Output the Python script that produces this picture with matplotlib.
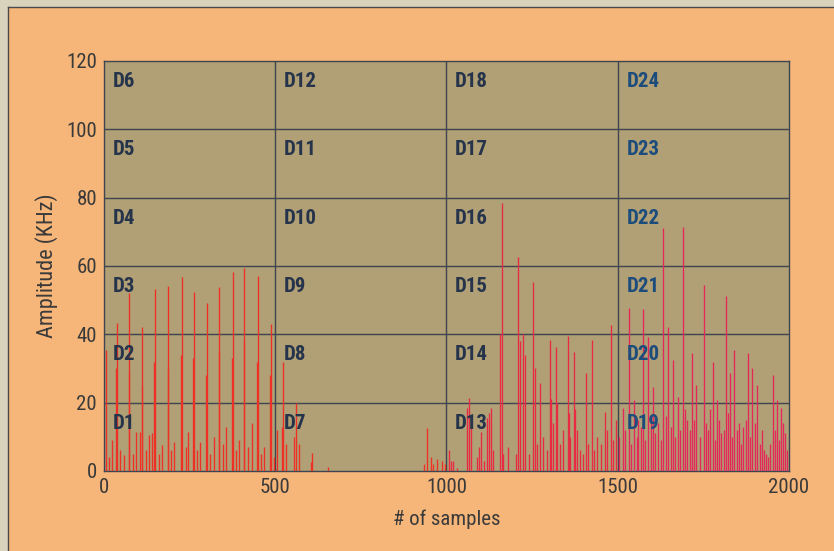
import matplotlib
matplotlib.use('Agg')
import matplotlib.pyplot as plt
from matplotlib.patches import Rectangle

# spike positions (sample index) and peak amplitudes (KHz)
# block 1: 0-500
b1_x = [5, 37, 74, 112, 149, 188, 227, 263, 300, 337, 376, 410, 449, 487,
        35, 72, 110, 147, 186, 225, 261, 298, 335, 374, 408, 447, 485,
        22, 58, 93, 105, 132, 139, 168, 205, 246, 281, 320, 357, 393, 432, 468,
        15, 48, 85, 122, 160, 197, 238, 272, 310, 347, 385, 420, 458, 495]
b1_h = [35.4, 43.2, 52.0, 42.2, 53.2, 54.1, 56.9, 52.5, 49.1, 53.9, 58.3, 59.3, 57.1, 43.0,
        30, 29, 25, 32, 30, 34, 33, 28, 35, 33, 38, 32, 28,
        9, 4.7, 11.5, 11.5, 10.5, 11, 7.6, 8.6, 11.5, 8.6, 10, 13, 9, 14, 7.1,
        4, 6, 5, 6, 5, 6, 7, 6, 5, 8, 6, 7, 5, 4]
# block 2: 500-1000
b2_x = [504, 519, 524, 531, 556, 562, 568, 604, 608, 655,
        934, 943, 954, 962, 971, 987, 996]
b2_h = [12, 13, 32, 8, 10, 19.9, 8, 2.7, 5.4, 1.3,
        2, 12.5, 4.2, 2, 3.4, 3, 2]
# block 3: 1000-1500
b3_x = [1007, 1012, 1019, 1030, 1060, 1065, 1072, 1088, 1095, 1102, 1110, 1117, 1124,
        1129, 1135, 1155, 1161, 1166, 1179, 1203, 1208, 1215, 1224, 1228, 1240, 1254,
        1258, 1263, 1273, 1283, 1293, 1303, 1306, 1310, 1321, 1324, 1330, 1340, 1354,
        1357, 1362, 1373, 1376, 1380, 1390, 1398, 1407, 1413, 1425, 1432, 1440, 1452,
        1463, 1470, 1479, 1487, 1495]
b3_h = [6.1, 3, 3, 1, 18.3, 21.3, 14, 4, 6.9, 11.5, 3, 15.4, 16.9,
        18.3, 6, 40, 78.5, 5, 7.1, 5, 62.7, 38, 40, 34, 5, 55.4,
        30, 8, 25.7, 10, 6, 38.3, 21, 14, 36.4, 20, 8, 12, 39.6,
        17, 10, 34.9, 18, 12, 6, 5, 28.6, 8, 38.3, 6, 10, 8,
        17.4, 12, 42.7, 9, 14.9]
# block 4: 1500-2000
b4_x = [1505, 1514, 1522, 1534, 1540, 1548, 1555, 1560, 1567, 1573, 1580, 1589, 1596,
        1604, 1610, 1618, 1625, 1633, 1640, 1648, 1655, 1660, 1668, 1675, 1683, 1691,
        1697, 1703, 1710, 1716, 1722, 1730, 1740, 1752, 1758, 1764, 1770, 1777, 1784,
        1791, 1797, 1803, 1810, 1816, 1822, 1828, 1834, 1840, 1848, 1855, 1860, 1867,
        1874, 1881, 1887, 1893, 1900, 1908, 1914, 1920, 1926, 1932, 1940, 1946, 1952,
        1958, 1964, 1970, 1977, 1983, 1989, 1995]
b4_h = [10, 18.3, 12, 47.6, 8, 20.8, 10, 15, 13, 47.3, 9, 39.3, 16,
        24.7, 11, 14, 9, 71, 16, 42.2, 13, 32.5, 10, 21.7, 12, 71.3,
        18, 15, 12, 34.4, 15, 25.2, 10, 54.4, 14, 12, 18, 32, 9,
        20.8, 15, 11, 12, 51.2, 17, 28.6, 10, 35.4, 12, 14, 8, 13,
        15, 34.4, 10, 30, 14, 25.2, 8, 12, 6, 5, 4, 8, 28.1,
        12, 20.8, 9, 18.3, 14, 11, 6]

blocks_x = [b1_x, b2_x, b3_x, b4_x]
blocks_h = [b1_h, b2_h, b3_h, b4_h]
block_colors = ['#ee3025', '#ee3025', '#e82a42', '#e5285a']

x_ticks = [0, 500, 1000, 1500, 2000]
y_ticks = [0, 20, 40, 60, 80, 100, 120]
cell_names = [['D%d' % (c * 6 + r + 1) for r in range(6)] for c in range(4)]
name_colors = ['#25344a', '#25344a', '#25344a', '#1c4c7c']

narrow = ['Roboto Condensed', 'DejaVu Sans']

fig = plt.figure(figsize=(8.34, 5.51), dpi=100, facecolor='#f6b679')
# scanned page frame on the top / left
fig.patches.append(Rectangle((0, 0.988), 1, 0.012, transform=fig.transFigure,
                             facecolor='#d9d2bd', edgecolor='none'))
fig.patches.append(Rectangle((0, 0), 0.0095, 1, transform=fig.transFigure,
                             facecolor='#d9d2bd', edgecolor='none'))
fig.lines.append(plt.Line2D([0.0095, 1], [0.988, 0.988], transform=fig.transFigure,
                            color='#4a4a4a', lw=1))
fig.lines.append(plt.Line2D([0.0095, 0.0095], [0, 0.988], transform=fig.transFigure,
                            color='#4a4a4a', lw=1))

ax = fig.add_axes([0.1247, 0.1452, 0.8213, 0.7441])
ax.set_facecolor('#b19f76')

for xs, hs, col in zip(blocks_x, blocks_h, block_colors):
    ax.vlines(xs, 0, hs, color=col, lw=0.95, zorder=3)

ax.set_xlim(0, 2000)
ax.set_ylim(0, 120)
ax.set_xticks(x_ticks)
ax.set_yticks(y_ticks)
for v in x_ticks[1:-1]:
    ax.axvline(v, color='#3d4550', lw=1, zorder=2)
for v in y_ticks[1:-1]:
    ax.axhline(v, color='#3d4550', lw=1, zorder=2)
for s in ax.spines.values():
    s.set_color('#3d4550')
    s.set_linewidth(1)

ax.tick_params(length=0, labelcolor='#3a3a3a')
ax.tick_params(axis='x', pad=5)
ax.tick_params(axis='y', pad=5)
for lab in ax.get_xticklabels() + ax.get_yticklabels():
    lab.set_family(narrow)
    lab.set_fontsize(15)

for c in range(4):
    for r in range(6):
        ax.text(c * 500 + 25, (r + 1) * 20 - 6, cell_names[c][r], family=narrow,
                fontsize=15, fontweight='bold', color=name_colors[c],
                ha='left', va='center', zorder=4)

ax.set_xlabel('# of samples', family=narrow, fontsize=15, color='#3a3a3a', labelpad=9)
ax.set_ylabel('Amplitude (KHz)', family=narrow, fontsize=16, color='#3a3a3a', labelpad=6)

plt.savefig('out.png', dpi=100, facecolor=fig.get_facecolor())
